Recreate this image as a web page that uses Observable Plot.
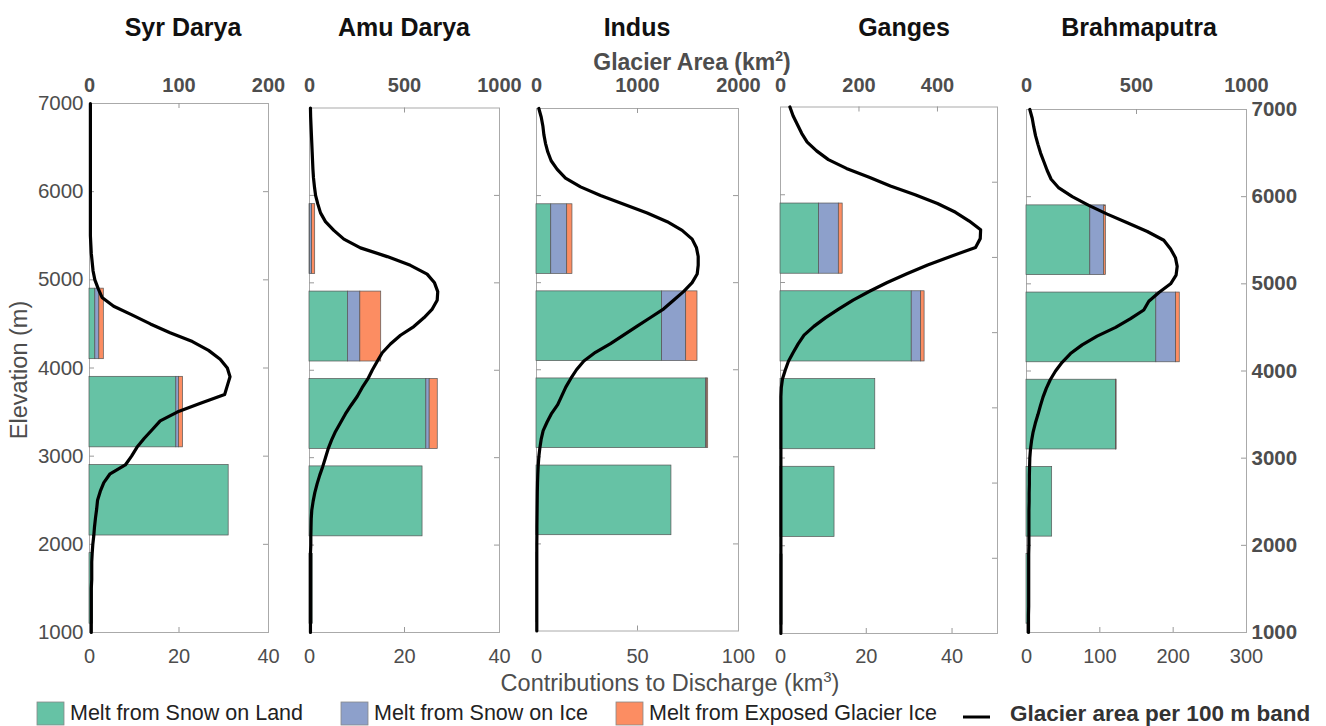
<!DOCTYPE html>
<html><head><meta charset="utf-8">
<script src="https://cdn.jsdelivr.net/npm/d3@7"></script>
<script src="https://cdn.jsdelivr.net/npm/@observablehq/plot@0.6"></script>
<style>
body{margin:0;background:#fff;}
#wrap{position:relative;width:1326px;height:726px;overflow:hidden;background:#fff;}
#wrap svg{position:absolute;top:0;}
</style></head><body><div id="wrap"></div><script>
// ---------- DATA ----------
const basins = ["Syr Darya", "Amu Darya", "Indus", "Ganges", "Brahmaputra"];
const components = ["Melt from Snow on Land", "Melt from Snow on Ice", "Melt from Exposed Glacier Ice"];
const componentColors = ["#66c2a5", "#8da0cb", "#fc8d62"];
const bands = [1500, 2500, 3500, 4500, 5500]; // band centres (m), 1000 m bands
const elevTicks = [1000, 2000, 3000, 4000, 5000, 6000, 7000];

// Contributions to discharge (km3) per band
const syrLand = [0.8, 31.1, 19.4, 1.3, 0];
const syrIce = [0, 0, 0.6, 0.9, 0];
const syrExposed = [0, 0, 0.9, 1.0, 0];
const amuLand = [0.7, 23.8, 24.6, 8.1, 0.1];
const amuIce = [0, 0, 0.7, 2.6, 0.45];
const amuExposed = [0, 0, 1.7, 4.4, 0.65];
const indusLand = [0.5, 66.8, 84.0, 62.2, 7.3];
const indusIce = [0, 0, 0.3, 11.9, 7.9];
const indusExposed = [0, 0, 0.7, 5.6, 2.6];
const gangesLand = [0.5, 12.6, 22.1, 30.6, 9.0];
const gangesIce = [0, 0, 0, 2.2, 4.6];
const gangesExposed = [0, 0, 0, 0.8, 0.9];
const brahmaLand = [2, 35, 122, 177, 87];
const brahmaIce = [0, 0, 0.5, 27, 19];
const brahmaExposed = [0, 0, 0.3, 5, 2.2];

// Glacier area per 100 m band (km2)
const elevations = [1000,1100,1200,1300,1400,1500,1600,1700,1800,1900,
  2000,2100,2200,2300,2400,2500,2600,2700,2800,2900,
  3000,3100,3200,3300,3400,3500,3600,3700,3800,3900,
  4000,4100,4200,4300,4400,4500,4600,4700,4800,4900,
  5000,5100,5200,5300,5400,5500,5600,5700,5800,5900,
  6000,6100,6200,6300,6400,6500,6600,6700,6800,6900,7000];
const syrArea = [2,2,2,2,2,2,2.5,2.5,2.5,3,
  3.7,4.8,5.6,6.7,8,9,12,16,23,40,
  47,53,61,70,79,98,124,151,154,157,
  154,146,133,115,90,68,48,27,14,9.7,
  6,4,3,2,1.5,1,1,1,1,1,
  1,1,1,1,1,1,1,1,1,1,1];
const amuArea = [5,5,5,5,5,5,5,5,5,5,
  7,7,8,9,12,19,28,40,54,70,
  84,98,116,137,163,189,219,251,277,307,
  330,356,383,426,479,549,602,646,672,675,
  658,619,531,409,268,181,128,84,58,44,
  32,26,21,18,16,14,12,10,8,6,5];
const indusArea = [3,3,3,3,3,3,3,3,3,3,
  3,4,4,5,6,7,8,10,13,17,
  23,33,46,66,105,150,210,250,290,340,
  396,469,584,733,865,997,1129,1260,1360,1458,
  1541,1591,1601,1601,1584,1541,1442,1294,1096,865,
  634,436,287,205,145,112,89,73,63,47,23];
const gangesArea = [1,1,1,1,1,1,1,1,1,1,
  1,1,1,1,1,1,1,1,1,1,
  1,1,1,1,1,1,1,1,2,5,
  12,20,32,45,60,85,115,149,185,227,
  272,322,375,435,497,509,510,481,446,400,
  343,280,226,168,122,92,68,54,43,32,24];
const brahmaArea = [9,9,9,10,10,10,10,10,10,10,
  11,11,11,11,11,12,12,13,13,14,
  15,18,23,30,40,52,63,75,90,108,
  132,162,200,253,321,405,473,533,556,602,
  655,680,685,677,655,624,549,458,367,283,
  208,147,112,94,79,64,52,41,33,26,15];

// Axis ticks per panel
const syrDischargeTicks = [0, 20, 40], syrAreaTicks = [0, 100, 200];
const amuDischargeTicks = [0, 20, 40], amuAreaTicks = [0, 500, 1000];
const indusDischargeTicks = [0, 50, 100], indusAreaTicks = [0, 1000, 2000];
const gangesDischargeTicks = [0, 20, 40], gangesAreaTicks = [0, 200, 400];
const brahmaDischargeTicks = [0, 100, 200, 300], brahmaAreaTicks = [0, 500, 1000];
// Ganges' right edge carries the ticks of a twin axis spanning 0–7000
const gangesTwinTicks = [1000, 2000, 3000, 4000, 5000, 6000];
const gangesTwinMax = 7000;

// ---------- LAYOUT ----------
const panels = [
  {name: basins[0], land: syrLand, ice: syrIce, exp: syrExposed, area: syrArea, dMax: 40, aMax: 200, bT: syrDischargeTicks, tT: syrAreaTicks, L: 89, R: 268, T: 103, B: 632, left: true},
  {name: basins[1], land: amuLand, ice: amuIce, exp: amuExposed, area: amuArea, dMax: 40, aMax: 1000, bT: amuDischargeTicks, tT: amuAreaTicks, L: 309, R: 499, T: 107.5, B: 632},
  {name: basins[2], land: indusLand, ice: indusIce, exp: indusExposed, area: indusArea, dMax: 100, aMax: 2000, bT: indusDischargeTicks, tT: indusAreaTicks, L: 536, R: 738, T: 108, B: 630.5},
  {name: basins[3], land: gangesLand, ice: gangesIce, exp: gangesExposed, area: gangesArea, dMax: 50.6, aMax: 553, bT: gangesDischargeTicks, tT: gangesAreaTicks, L: 780, R: 997, T: 106.5, B: 633, twin: true},
  {name: basins[4], land: brahmaLand, ice: brahmaIce, exp: brahmaExposed, area: brahmaArea, dMax: 300, aMax: 1000, bT: brahmaDischargeTicks, tT: brahmaAreaTicks, L: 1026, R: 1246, T: 109, B: 632, right: true}
];
const FONT = "'Liberation Sans', Arial, Helvetica, sans-serif";
const GRAY = "#4d4d4d";
const wrap = document.getElementById("wrap");
const fmt = d => String(d);

function makePanel(p) {
  const mL = 70, mR = 80, H = 726;
  const W = (p.R - p.L) + mL + mR;
  const k = p.dMax / p.aMax;
  const rows = [];
  bands.forEach((b, i) => {
    let c = 0;
    [p.land, p.ice, p.exp].forEach((arr, j) => {
      const v = arr[i];
      if (v > 0) { rows.push({y1: b - 400, y2: b + 400, x1: c, x2: c + v, comp: components[j]}); c += v; }
    });
  });
  const line = elevations.map((e, i) => ({e, a: p.area[i] * k}));
  const pxPerX = (p.R - p.L) / p.dMax;
  const pxPerY = (p.B - p.T) / 6000;
  const tx = 5 / pxPerX, ty = 5 / pxPerY;
  const innerY = elevTicks.slice(1, -1);
  const rightY = p.twin ? gangesTwinTicks.map(t => 1000 + t * 6000 / gangesTwinMax) : innerY;
  const topInner = p.tT.filter(t => t > 0 && t * k < p.dMax * 0.99);
  const botInner = p.bT.filter(t => t > 0 && t < p.dMax * 0.99);
  const marks = [
    Plot.frame({stroke: "#aaaaaa", strokeWidth: 1}),
    Plot.ruleX(botInner, {x: d => d, y1: 1000, y2: 1000 + ty, stroke: "#999"}),
    Plot.ruleX(topInner, {x: d => d * k, y1: 7000, y2: 7000 - ty, stroke: "#999"}),
    Plot.ruleY(innerY, {y: d => d, x1: 0, x2: tx, stroke: "#999"}),
    Plot.ruleY(rightY, {y: d => d, x1: p.dMax - tx, x2: p.dMax, stroke: "#999"}),
    Plot.rect(rows, {x1: "x1", x2: "x2", y1: "y1", y2: "y2", fill: "comp", stroke: "#555", strokeWidth: 0.7}),
    Plot.line(line, {x: "a", y: "e", stroke: "#000", strokeWidth: 3.2, strokeLinejoin: "round"}),
    Plot.axisX(p.bT, {anchor: "bottom", tickSize: 0, tickPadding: 648 - p.B, fontSize: 20, tickFormat: fmt, label: null}),
    Plot.text(p.tT, {x: d => d * k, y: d => 7000, dy: 85 - p.T, text: fmt, fontWeight: "bold", fontSize: 20, lineAnchor: "middle"})
  ];
  if (p.left) marks.push(Plot.axisY(elevTicks, {anchor: "left", tickSize: 0, tickPadding: 6, fontSize: 20.5, tickFormat: fmt, label: null}));
  if (p.right) marks.push(Plot.axisY(elevTicks, {anchor: "right", tickSize: 0, tickPadding: 5, fontSize: 20.5, fontWeight: "bold", tickFormat: fmt, label: null}));
  const svg = Plot.plot({
    width: W, height: H,
    marginLeft: mL, marginRight: mR, marginTop: p.T, marginBottom: H - p.B,
    x: {domain: [0, p.dMax]},
    y: {domain: [1000, 7000], axis: (p.left || p.right) ? undefined : null},
    color: {domain: components, range: componentColors},
    style: {background: "transparent", overflow: "visible", fontFamily: FONT, color: GRAY},
    marks
  });
  svg.style.left = (p.L - mL) + "px";
  svg.style.position = "absolute";
  svg.style.top = "0px";
  wrap.appendChild(svg);
}
panels.forEach(makePanel);

// ---------- TITLES / LABELS / LEGEND ----------
const ov = d3.select(wrap).append("svg")
  .attr("width", 1326).attr("height", 726)
  .style("position", "absolute").style("left", "0px").style("top", "0px")
  .style("pointer-events", "none").style("font-family", FONT);
const titleX = [183, 404, 637, 904, 1139];
ov.selectAll("text.title").data(basins).join("text").attr("class", "title")
  .attr("x", (d, i) => titleX[i]).attr("y", 36).attr("text-anchor", "middle")
  .attr("font-size", 25).attr("font-weight", "bold").attr("fill", "#111").text(d => d);

const ga = ov.append("text").attr("x", 692).attr("y", 70).attr("text-anchor", "middle")
  .attr("font-size", 23).attr("font-weight", "bold").attr("fill", GRAY);
ga.append("tspan").text("Glacier Area (km");
ga.append("tspan").attr("font-size", 14).attr("dy", -9).text("2");
ga.append("tspan").attr("dy", 9).text(")");

const cd = ov.append("text").attr("x", 670).attr("y", 691).attr("text-anchor", "middle")
  .attr("font-size", 23.5).attr("fill", GRAY);
cd.append("tspan").text("Contributions to Discharge (km");
cd.append("tspan").attr("font-size", 15).attr("dy", -9).text("3");
cd.append("tspan").attr("dy", 9).text(")");

ov.append("text").attr("transform", "translate(27,370) rotate(-90)").attr("text-anchor", "middle")
  .attr("font-size", 23.5).attr("fill", GRAY).text("Elevation (m)");

const legX = [37, 341, 616];
components.forEach((c, i) => {
  ov.append("rect").attr("x", legX[i]).attr("y", 702).attr("width", 27).attr("height", 23)
    .attr("fill", componentColors[i]).attr("stroke", "#888").attr("stroke-width", 0.8);
  ov.append("text").attr("x", legX[i] + 33).attr("y", 720).attr("font-size", 21.5)
    .attr("fill", "#222").text(c);
});
ov.append("line").attr("x1", 963).attr("x2", 990).attr("y1", 717).attr("y2", 717)
  .attr("stroke", "#000").attr("stroke-width", 3);
ov.append("text").attr("x", 1010).attr("y", 721).attr("font-size", 22.5).attr("font-weight", "bold")
  .attr("fill", "#333").text("Glacier area per 100 m band");
</script></body></html>
